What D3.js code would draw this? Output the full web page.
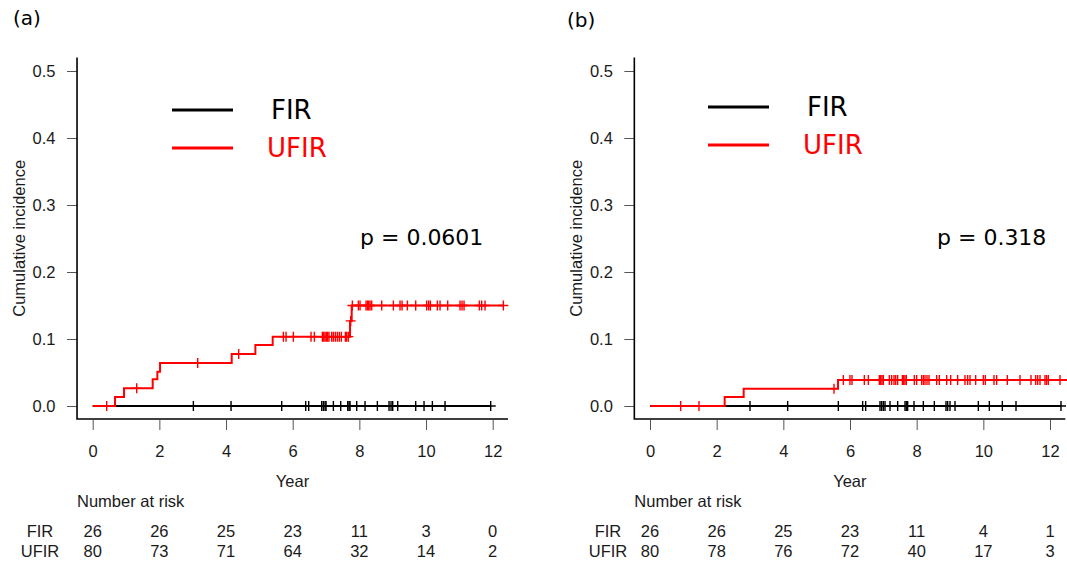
<!DOCTYPE html>
<html>
<head>
<meta charset="utf-8">
<script src="https://cdn.jsdelivr.net/npm/d3@7"></script>
<style>
    body { margin: 0; background: #fff; }
    svg { display: block; }
    .txt { font-family: "Liberation Sans", Arial, sans-serif; font-size: 16.5px; fill: #1a1a1a; }
    .grande { font-family: "DejaVu Sans", Verdana, sans-serif; }
</style>
</head>
<body>
<svg id="grafico" width="1067" height="564"></svg>
<script>

// eixos e tabela de risco
const anosTicks = [0, 2, 4, 6, 8, 10, 12];
const incidTicks = [0, 0.1, 0.2, 0.3, 0.4, 0.5];
const grupos = ["FIR", "UFIR"];

// painel (a) - FIR (sem eventos)
const aFirTempos = [0];
const aFirIncid = [0];
const aFirFim = 11.94;
const aFirCensuras = [3.02, 4.15, 5.67, 6.39, 6.48, 6.87, 6.92, 6.97, 7.0, 7.22, 7.44, 7.65, 7.69, 7.72,
    7.92, 8.17, 8.54, 8.89, 8.95, 9.0, 9.15, 9.69, 9.94, 10.19, 10.57, 11.94];

// painel (a) - UFIR
const aUfirTempos = [0, 0.67, 0.94, 1.80, 1.94, 2.02, 4.17, 4.88, 5.40, 7.72, 7.77];
const aUfirIncid = [0, 0.0134, 0.0264, 0.0398, 0.0512, 0.0642, 0.0776, 0.091, 0.1035, 0.127, 0.150];
const aUfirFim = 12.32;
const aUfirCensuras = [0.42, 1.32, 3.15, 4.38, 5.72, 5.80, 6.02, 6.55, 6.65, 6.89, 6.93, 6.97, 7.01, 7.05,
    7.09, 7.17, 7.22, 7.28, 7.34, 7.40, 7.46, 7.58, 7.62, 7.67, 7.74, 7.79, 7.97, 8.02, 8.20, 8.24, 8.28,
    8.32, 8.37, 8.67, 9.02, 9.22, 9.28, 9.44, 9.69, 10.02, 10.08, 10.13, 10.34, 10.42, 10.65, 11.02,
    11.08, 11.14, 11.60, 11.67, 11.77, 12.32];

const aRiscoFir = [26, 26, 25, 23, 11, 3, 0];
const aRiscoUfir = [80, 73, 71, 64, 32, 14, 2];
const aValorP = "p = 0.0601";

// painel (b) - FIR
const bFirTempos = [0];
const bFirIncid = [0];
const bFirFim = 12.33;
const bFirCensuras = [3.00, 4.13, 5.65, 6.38, 6.47, 6.90, 6.95, 7.00, 7.05, 7.20, 7.43, 7.65, 7.69, 7.73,
    7.92, 8.20, 8.53, 8.88, 8.93, 9.00, 9.15, 9.85, 10.18, 10.57, 10.98, 12.33];

// painel (b) - UFIR
const bUfirTempos = [0, 2.24, 2.81, 5.64];
const bUfirIncid = [0, 0.0134, 0.0259, 0.0388];
const bUfirFim = 12.6;
const bUfirCensuras = [0.92, 1.47, 5.52, 5.80, 6.00, 6.06, 6.43, 6.55, 6.88, 6.92, 6.96, 7.00, 7.18, 7.25,
    7.32, 7.37, 7.43, 7.57, 7.61, 7.65, 7.69, 7.93, 8.00, 8.15, 8.20, 8.25, 8.31, 8.37, 8.60, 8.68, 8.90,
    9.02, 9.23, 9.45, 9.53, 9.60, 9.77, 10.00, 10.06, 10.32, 10.40, 10.72, 11.10, 11.43, 11.57, 11.63,
    11.70, 11.85, 11.90, 11.95, 12.30];

const bRiscoFir = [26, 26, 25, 23, 11, 4, 1];
const bRiscoUfir = [80, 78, 76, 72, 40, 17, 3];
const bValorP = "p = 0.318";

const VERMELHO = "#ff0000";
const PRETO = "#000000";


const paineis = [
    {
        rotulo: "(a)", rotuloX: 13, rotuloY: 25,
        x0: 92.7, legendaX: 172, legendaY: 110, legendaTextoX: [271, 267], pX: 360, rotuloRiscoX: 40,
        curvas: [
            {tempos: aFirTempos, incid: aFirIncid, fim: aFirFim, censuras: aFirCensuras, cor: PRETO},
            {tempos: aUfirTempos, incid: aUfirIncid, fim: aUfirFim, censuras: aUfirCensuras, cor: VERMELHO}
        ],
        risco: [aRiscoFir, aRiscoUfir], valorP: aValorP
    },
    {
        rotulo: "(b)", rotuloX: 567, rotuloY: 27,
        x0: 650, legendaX: 708, legendaY: 107, legendaTextoX: [807, 803], pX: 937, rotuloRiscoX: 608,
        curvas: [
            {tempos: bFirTempos, incid: bFirIncid, fim: bFirFim, censuras: bFirCensuras, cor: PRETO},
            {tempos: bUfirTempos, incid: bUfirIncid, fim: bUfirFim, censuras: bUfirCensuras, cor: VERMELHO}
        ],
        risco: [bRiscoFir, bRiscoUfir], valorP: bValorP
    }
];


const svg = d3.select("#grafico");

function incidEm(curva, t){
    const i = d3.bisectRight(curva.tempos, t) - 1;
    return curva.incid[Math.max(0, i)];
}

function desenharPainel(p){

    const g = svg.append("g");

    // 12 anos = 400 px
    const x = d3.scaleLinear().domain([0, 12]).range([p.x0, p.x0 + 400]);
    const y = d3.scaleLinear().domain([0, 0.5]).range([406, 71]);

    // limites do plot (extensao de 4% como no R)
    const xMin = x(-0.47), xMax = x(12.46);
    const yTopo = y(0.52), yBase = y(-0.0194);

    // eixo y
    const eixoY = d3.axisLeft(y).tickValues(incidTicks).tickFormat(d3.format(".1f"))
        .tickSize(10).tickPadding(11.5);
    const gy = g.append("g").attr("transform", `translate(${xMin},0)`).call(eixoY);
    gy.select(".domain").remove();
    gy.selectAll("line").attr("stroke", "#555");
    gy.selectAll("text").attr("class", "txt").attr("fill", null);

    // eixo x
    const eixoX = d3.axisBottom(x).tickValues(anosTicks).tickSize(10).tickPadding(15);
    const gx = g.append("g").attr("transform", `translate(0,${yBase + 1})`).call(eixoX);
    gx.select(".domain").remove();
    gx.selectAll("line").attr("stroke", "#555");
    gx.selectAll("text").attr("class", "txt").attr("fill", null);

    // caixa em L
    g.append("path")
        .attr("d", `M${xMin},${yTopo}V${yBase}H${xMax}`)
        .attr("fill", "none").attr("stroke", "#000").attr("stroke-width", 1.6);

    // curvas
    const linha = d3.line().x(d => x(d[0])).y(d => y(d[1])).curve(d3.curveStepAfter);

    p.curvas.forEach(curva => {
        const pontos = curva.tempos.map((t, i) => [t, curva.incid[i]]);
        pontos.push([curva.fim, curva.incid[curva.incid.length - 1]]);

        g.append("path")
            .attr("d", linha(pontos))
            .attr("fill", "none").attr("stroke", curva.cor).attr("stroke-width", 2);

        g.append("g").selectAll("path")
            .data(curva.censuras)
            .enter().append("path")
                .attr("d", t => {
                    const cx = x(t), cy = y(incidEm(curva, t));
                    return `M${cx},${cy - 5}V${cy + 5}M${cx - 5},${cy}H${cx + 5}`;
                })
                .attr("stroke", curva.cor).attr("stroke-width", 1.4).attr("fill", "none");
    });

    // rotulo do painel
    g.append("text").attr("class", "grande")
        .attr("x", p.rotuloX).attr("y", p.rotuloY)
        .attr("font-size", 20).attr("fill", "#000").text(p.rotulo);

    // titulo eixo y
    g.append("text").attr("class", "txt")
        .attr("transform", `translate(${xMin - 52.5},${(yTopo + yBase) / 2}) rotate(-90)`)
        .attr("text-anchor", "middle").text("Cumulative incidence");

    // titulo eixo x
    g.append("text").attr("class", "txt")
        .attr("x", (xMin + xMax) / 2).attr("y", 486.5)
        .attr("text-anchor", "middle").text("Year");

    // legenda
    p.curvas.forEach((curva, i) => {
        const ly = p.legendaY + i * 38;
        g.append("line")
            .attr("x1", p.legendaX).attr("x2", p.legendaX + 61)
            .attr("y1", ly).attr("y2", ly)
            .attr("stroke", curva.cor).attr("stroke-width", 3);
        g.append("text").attr("class", "grande")
            .attr("x", p.legendaTextoX[i]).attr("y", ly + 9)
            .attr("font-size", 26).attr("fill", curva.cor).text(grupos[i]);
    });

    // valor p
    g.append("text").attr("class", "grande")
        .attr("x", p.pX).attr("y", 245)
        .attr("font-size", 22).attr("fill", "#000").text(p.valorP);

    // tabela numero em risco
    g.append("text").attr("class", "txt")
        .attr("x", xMin).attr("y", 506.5).text("Number at risk");

    p.risco.forEach((linhaRisco, i) => {
        const ry = 537 + i * 20;
        g.append("text").attr("class", "txt")
            .attr("x", p.rotuloRiscoX).attr("y", ry)
            .attr("text-anchor", "middle").text(grupos[i]);

        g.append("g").selectAll("text")
            .data(linhaRisco)
            .enter().append("text")
                .attr("class", "txt")
                .attr("x", (d, j) => x(anosTicks[j]))
                .attr("y", ry)
                .attr("text-anchor", "middle")
                .text(d => d);
    });
}

paineis.forEach(p => desenharPainel(p));

</script>
</body>
</html>
